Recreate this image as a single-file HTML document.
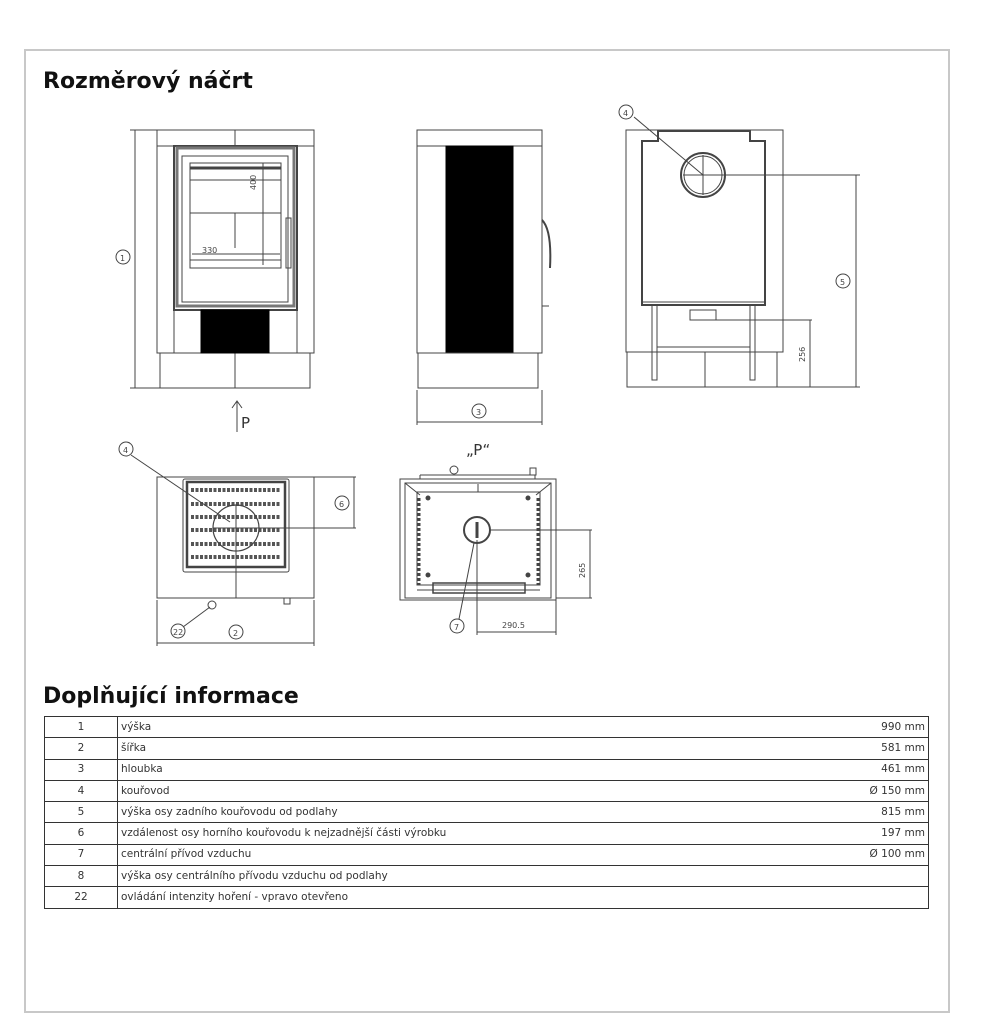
<!DOCTYPE html>
<html><head><meta charset="utf-8"><style>
body{margin:0;background:#fff;width:1000px;height:1000px;overflow:hidden;font-family:"DejaVu Sans","Liberation Sans",sans-serif}
.frame{position:absolute;left:24px;top:49px;width:922px;height:960px;border:2px solid #c8c8c8}
h1{position:absolute;margin:0;font-size:22px;font-weight:bold;color:#111;left:43px}
table{position:absolute;left:44px;top:716px;width:885px;border-collapse:collapse;font-size:10.5px;color:#333}
td{border:1.5px solid #333;height:20.3px;padding:0 3px;line-height:19px}
td.n{width:66px;text-align:center}
td.v{text-align:right;border-left:none}
td.d{border-right:none}
</style></head><body>
<div class="frame"></div>
<h1 style="top:69px">Rozměrový náčrt</h1>
<h1 style="top:684px">Doplňující informace</h1>
<svg style="position:absolute;left:0;top:0" width="1000" height="680" viewBox="0 0 1000 680" font-family="DejaVu Sans, Liberation Sans, sans-serif" fill="none" stroke="#444" stroke-width="1">
<!-- front view -->
<rect x="157" y="130" width="157" height="223"/>
<line x1="157" y1="146" x2="314" y2="146"/>
<line x1="235" y1="130" x2="235" y2="146"/>
<rect x="160" y="353" width="150" height="35"/>
<line x1="235" y1="353" x2="235" y2="388"/>
<rect x="174" y="146" width="123" height="164" stroke-width="2"/>
<rect x="177" y="148" width="117" height="158" stroke="#777" stroke-width="3"/>
<rect x="182" y="156" width="106" height="146"/>
<rect x="190" y="163" width="91" height="105"/>
<line x1="190" y1="168" x2="281" y2="168" stroke-width="3"/>
<line x1="190" y1="180" x2="281" y2="180"/>
<line x1="190" y1="213" x2="281" y2="213"/>
<line x1="235" y1="213" x2="235" y2="248"/>
<line x1="190" y1="260" x2="281" y2="260"/>
<line x1="263" y1="163" x2="263" y2="265"/>
<text x="256" y="190" font-size="8" fill="#444" stroke="none" transform="rotate(-90 256 190)">400</text>
<text x="202" y="253" font-size="8" fill="#444" stroke="none">330</text>
<line x1="192" y1="254" x2="280" y2="254"/>
<rect x="286" y="218" width="5" height="50"/>
<rect x="201" y="310" width="68" height="43" fill="#000" stroke="#000"/>
<line x1="174" y1="310" x2="174" y2="353"/><line x1="297" y1="310" x2="297" y2="353"/>
<line x1="135" y1="130" x2="135" y2="388"/>
<line x1="130" y1="130" x2="157" y2="130"/><line x1="130" y1="388" x2="160" y2="388"/>
<circle cx="123" cy="257" r="7"/><text x="120" y="261" font-size="8" fill="#444" stroke="none">1</text>
<line x1="237" y1="402" x2="237" y2="432"/><polyline points="232,408 237,401 242,408"/>
<text x="241" y="428" font-size="15" fill="#333" stroke="none">P</text>
<!-- side view -->
<rect x="417" y="130" width="125" height="223"/>
<line x1="417" y1="146" x2="542" y2="146"/>
<rect x="446" y="146" width="67" height="207" fill="#000" stroke="#000"/>
<rect x="418" y="353" width="120" height="35"/>
<path d="M542 220 Q552 230 550 268" stroke-width="2"/>
<line x1="542" y1="306" x2="549" y2="306"/>
<line x1="417" y1="390" x2="417" y2="425"/><line x1="542" y1="390" x2="542" y2="425"/>
<line x1="417" y1="422" x2="542" y2="422"/>
<circle cx="479" cy="411" r="7"/><text x="476" y="415" font-size="8" fill="#444" stroke="none">3</text>
<!-- back view -->
<rect x="626" y="130" width="157" height="222"/>
<rect x="627" y="352" width="150" height="35"/>
<line x1="705" y1="352" x2="705" y2="387"/>
<path d="M658 130 V141 H642 V305 H765 V141 H750 V130" stroke-width="2"/>
<line x1="658" y1="131" x2="750" y2="131" stroke-width="2"/>
<line x1="642" y1="302" x2="765" y2="302"/>
<circle cx="703" cy="175" r="22" stroke-width="2"/><circle cx="703" cy="175" r="19"/>
<line x1="703" y1="155" x2="703" y2="195"/>
<line x1="683" y1="175" x2="860" y2="175"/>
<line x1="634" y1="117" x2="703" y2="175"/>
<circle cx="626" cy="112" r="7"/><text x="623" y="116" font-size="8" fill="#444" stroke="none">4</text>
<rect x="652" y="305" width="5" height="75"/><rect x="750" y="305" width="5" height="75"/>
<line x1="657" y1="347" x2="750" y2="347"/><line x1="657" y1="352" x2="750" y2="352"/>
<rect x="690" y="310" width="26" height="10"/>
<line x1="716" y1="320" x2="812" y2="320"/>
<line x1="810" y1="320" x2="810" y2="387"/>
<text x="805" y="362" font-size="8" fill="#444" stroke="none" transform="rotate(-90 805 362)">256</text>
<line x1="856" y1="175" x2="856" y2="387"/>
<line x1="777" y1="387" x2="860" y2="387"/>
<circle cx="843" cy="281" r="7"/><text x="840" y="285" font-size="8" fill="#444" stroke="none">5</text>
<!-- top view -->
<rect x="157" y="477" width="157" height="121"/>
<rect x="183" y="479" width="106" height="93" rx="2"/>
<rect x="187" y="482" width="98" height="85" stroke-width="2.5"/>
<g stroke="#555" stroke-width="4" stroke-dasharray="3 1.5">
<line x1="191" y1="490" x2="281" y2="490"/><line x1="191" y1="504" x2="281" y2="504"/>
<line x1="191" y1="517" x2="281" y2="517"/><line x1="191" y1="530" x2="281" y2="530"/>
<line x1="191" y1="544" x2="281" y2="544"/><line x1="191" y1="557" x2="281" y2="557"/>
</g>
<circle cx="236" cy="528" r="23" stroke-width="1.2" fill="none"/>
<line x1="236" y1="505" x2="236" y2="598"/>
<line x1="213" y1="528" x2="356" y2="528"/>
<line x1="314" y1="477" x2="356" y2="477"/>
<line x1="354" y1="477" x2="354" y2="528"/>
<circle cx="342" cy="503" r="7"/><text x="339" y="507" font-size="8" fill="#444" stroke="none">6</text>
<line x1="131" y1="455" x2="230" y2="522"/>
<circle cx="126" cy="449" r="7"/><text x="123" y="453" font-size="8" fill="#444" stroke="none">4</text>
<line x1="175" y1="598" x2="300" y2="598"/>
<circle cx="212" cy="605" r="4"/><rect x="284" y="598" width="6" height="6"/>
<line x1="183" y1="627" x2="210" y2="607"/>
<circle cx="178" cy="631" r="7"/><text x="173" y="635" font-size="8" fill="#444" stroke="none">22</text>
<circle cx="236" cy="632" r="7"/><text x="233" y="636" font-size="8" fill="#444" stroke="none">2</text>
<line x1="157" y1="600" x2="157" y2="646"/><line x1="314" y1="600" x2="314" y2="646"/>
<line x1="157" y1="643" x2="314" y2="643"/>
<!-- P view -->
<text x="466" y="455" font-size="15" fill="#333" stroke="none">„P“</text>
<rect x="400" y="479" width="156" height="121"/>
<rect x="405" y="483" width="146" height="115"/>
<line x1="420" y1="475" x2="535" y2="475"/><line x1="420" y1="479" x2="420" y2="475"/><line x1="535" y1="479" x2="535" y2="475"/>
<circle cx="454" cy="470" r="4"/><rect x="530" y="468" width="6" height="7"/>
<line x1="405" y1="483" x2="420" y2="495"/><line x1="551" y1="483" x2="536" y2="495"/>
<rect x="417" y="492" width="123" height="93"/>
<line x1="417" y1="590" x2="540" y2="590"/>
<rect x="433" y="583" width="92" height="10" stroke-width="1.5"/>
<line x1="419" y1="498" x2="419" y2="585" stroke-width="3" stroke-dasharray="3 2"/>
<line x1="538" y1="498" x2="538" y2="585" stroke-width="3" stroke-dasharray="3 2"/>
<circle cx="428" cy="498" r="2" fill="#444"/><circle cx="528" cy="498" r="2" fill="#444"/>
<circle cx="428" cy="575" r="2" fill="#444"/><circle cx="528" cy="575" r="2" fill="#444"/>
<circle cx="477" cy="530" r="13" stroke-width="2"/>
<line x1="477" y1="522" x2="477" y2="538" stroke-width="3"/>
<line x1="478" y1="484" x2="478" y2="492"/>
<line x1="490" y1="530" x2="592" y2="530"/>
<line x1="556" y1="598" x2="592" y2="598"/>
<line x1="590" y1="530" x2="590" y2="598"/>
<text x="585" y="578" font-size="8" fill="#444" stroke="none" transform="rotate(-90 585 578)">265</text>
<line x1="477" y1="540" x2="477" y2="635"/>
<line x1="556" y1="600" x2="556" y2="635"/>
<line x1="477" y1="632" x2="556" y2="632"/>
<text x="502" y="628" font-size="8" fill="#444" stroke="none">290.5</text>
<line x1="459" y1="619" x2="474" y2="543"/>
<circle cx="457" cy="626" r="7"/><text x="454" y="630" font-size="8" fill="#444" stroke="none">7</text>
</svg>
<table>
<tr><td class="n">1</td><td class="d">výška</td><td class="v">990 mm</td></tr>
<tr><td class="n">2</td><td class="d">šířka</td><td class="v">581 mm</td></tr>
<tr><td class="n">3</td><td class="d">hloubka</td><td class="v">461 mm</td></tr>
<tr><td class="n">4</td><td class="d">kouřovod</td><td class="v">Ø 150 mm</td></tr>
<tr><td class="n">5</td><td class="d">výška osy zadního kouřovodu od podlahy</td><td class="v">815 mm</td></tr>
<tr><td class="n">6</td><td class="d">vzdálenost osy horního kouřovodu k nejzadnější části výrobku</td><td class="v">197 mm</td></tr>
<tr><td class="n">7</td><td class="d">centrální přívod vzduchu</td><td class="v">Ø 100 mm</td></tr>
<tr><td class="n">8</td><td class="d">výška osy centrálního přívodu vzduchu od podlahy</td><td class="v"></td></tr>
<tr><td class="n">22</td><td class="d">ovládání intenzity hoření - vpravo otevřeno</td><td class="v"></td></tr>
</table>
</body></html>
